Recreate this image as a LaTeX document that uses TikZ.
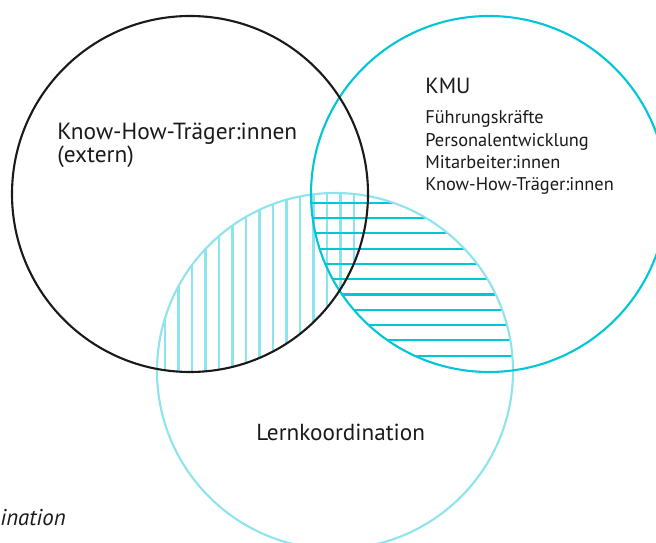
\documentclass[tikz,border=0pt]{standalone}
\usepackage{fontspec}
\setmainfont{PT Sans}

\definecolor{kmucyan}{HTML}{00C6D6}
\definecolor{lerncyan}{HTML}{8DE4EC}
\definecolor{extblack}{HTML}{1A1A1A}

\begin{document}
\begin{tikzpicture}[x=0.02cm, y=-0.02cm,
    ring/.style={line width=1.2pt},
    hatch/.style={line width=1.2pt},
    label/.style={anchor=base west, align=left, inner sep=0pt, text=extblack}]

    \useasboundingbox (0,0) rectangle (656,543);

    % Define the centres
    \coordinate (E) at (190,194);
    \coordinate (K) at (489,194);
    \coordinate (L) at (335,371);

    % Vertical hatching: extern and Lernkoordination
    \begin{scope}
        \clip (E) circle[radius=178];
        \clip (L) circle[radius=178];
        \foreach \i in {0,...,14}
            \draw[hatch, lerncyan] (165+13.5*\i, 185) -- ++(0,200);
    \end{scope}

    % Horizontal hatching: KMU and Lernkoordination
    \begin{scope}
        \clip (K) circle[radius=178];
        \clip (L) circle[radius=178];
        \foreach \i in {0,...,10}
            \draw[hatch, kmucyan] (300, 202.7+15.3*\i) -- ++(230,0);
    \end{scope}

    % Draw the three circles
    \draw[ring, lerncyan] (L) circle[radius=178];
    \draw[ring, kmucyan] (K) circle[radius=178];
    \draw[ring, extblack] (E) circle[radius=178];

    % Label the circles (base = last line)
    \node[label, font=\fontsize{13.3}{13.6}\selectfont] (extern) at (57,163)
        {Know-How-Träger:innen\\(extern)};
    \node[label, font=\fontsize{12.5}{15}\selectfont] (kmu) at (425,94) {KMU};
    \node[label, font=\fontsize{10.45}{12.8}\selectfont] (kmulist) at (425,191)
        {Führungskräfte\\Personalentwicklung\\Mitarbeiter:innen\\Know-How-Träger:innen};
    \node[label, font=\fontsize{13.2}{15}\selectfont] (lern) at (256,441) {Lernkoordination};

    % Caption cut at the left edge
    \node[label, font=\fontsize{13}{14}\selectfont\itshape] (caption) at (0,526) {ination};

\end{tikzpicture}
\end{document}
